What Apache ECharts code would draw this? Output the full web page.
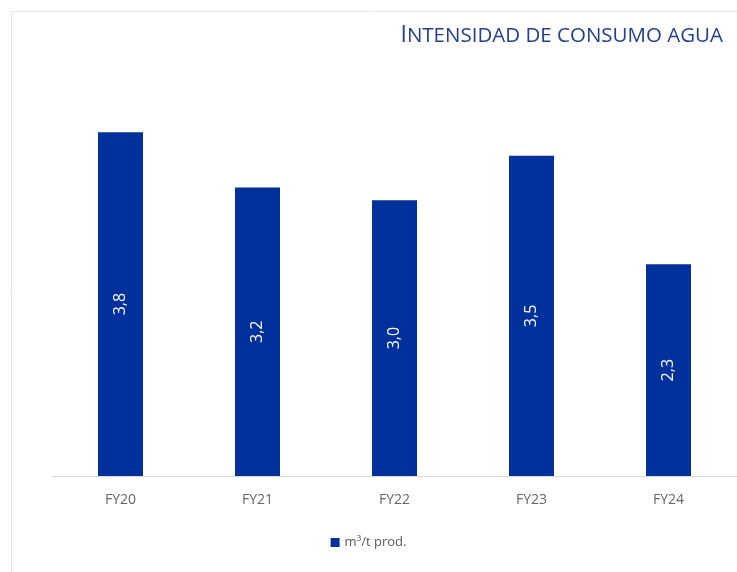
<!DOCTYPE html>
<html><head><meta charset="utf-8">
<script src="https://cdn.jsdelivr.net/npm/echarts@6/dist/echarts.min.js"></script>
<style>html,body{margin:0;padding:0;background:#fff}#c{width:737px;height:572px}</style>
</head><body><div id="c"></div>
<script>
const categories = ['FY20', 'FY21', 'FY22', 'FY23', 'FY24'];
const values = [3.80, 3.19, 3.05, 3.54, 2.34];
const seriesName = 'm³/t prod.';

const chart = echarts.init(document.getElementById('c'));
const font = '"Open Sans", "Noto Sans", sans-serif';
chart.setOption({
  animation: false,
  backgroundColor: '#fff',
  textStyle: { fontFamily: font },
  title: {
    text: '{big|I}{sm|NTENSIDAD DE CONSUMO AGUA}',
    right: 9, top: 19,
    textStyle: {
      fontWeight: 'normal',
      rich: {
        big: { fontSize: 23, color: '#23408e', fontFamily: font, fontWeight: 'normal', verticalAlign: 'bottom' },
        sm: { fontSize: 20.5, color: '#23408e', fontFamily: font, fontWeight: 'normal', verticalAlign: 'bottom' }
      }
    }
  },
  graphic: [{
    type: 'rect', z: -1, silent: true,
    shape: { x: 11.5, y: 11.5, width: 900, height: 900 },
    style: { fill: 'none', stroke: '#e4e4e4', lineWidth: 1 }
  }],
  legend: {
    bottom: 18, left: 'center',
    itemWidth: 9, itemHeight: 9, icon: 'rect', itemGap: 6,
    textStyle: { color: '#595959', fontSize: 13, fontFamily: font },
    data: [seriesName]
  },
  grid: { left: 52, width: 692, top: 69, bottom: 96 },
  xAxis: {
    type: 'category', data: categories,
    axisLine: { lineStyle: { color: '#d9d9d9' } },
    axisTick: { show: false },
    axisLabel: { color: '#666666', fontSize: 14, margin: 17, fontFamily: font }
  },
  yAxis: {
    type: 'value', min: 0, max: 4.5, show: false,
    splitLine: { show: false }
  },
  series: [{
    name: seriesName, type: 'bar', data: values, barWidth: 45,
    itemStyle: { color: '#00309b' },
    label: {
      show: true, position: 'inside', rotate: 90, color: '#fff', fontSize: 16,
      fontFamily: font,
      formatter: p => p.value.toFixed(1).replace('.', ',')
    }
  }]
});
</script></body></html>
